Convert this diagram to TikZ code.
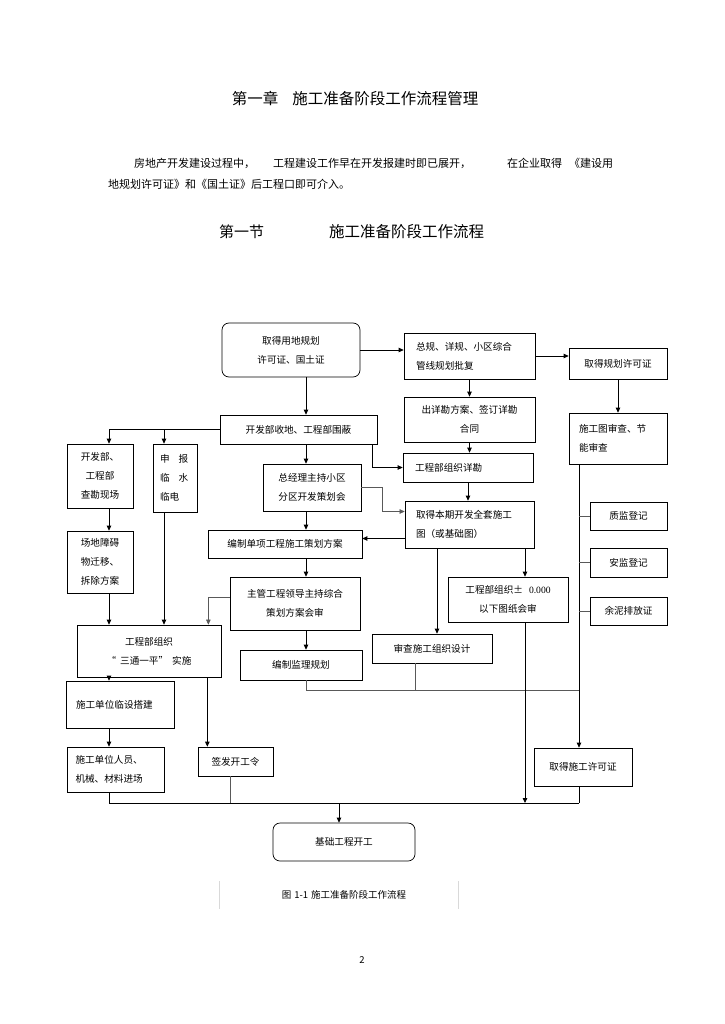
\documentclass[tikz,border=0pt]{standalone}
\usepackage{fontspec}
\setmainfont{Noto Sans CJK SC}
\newfontfamily\tms{Liberation Serif}
\usepackage{tikz}
\usetikzlibrary{arrows.meta, positioning, calc}

\begin{document}
\begin{tikzpicture}[
  x=1pt, y=-1pt,
  box/.style={draw, line width=0.7pt, inner sep=2pt, align=center, font=\fontsize{9.6}{19}\selectfont},
  lbox/.style={box, align=left},
  rbox/.style={box, rounded corners=7pt},
  arr/.style={-{Triangle[length=5pt,width=4.5pt]}, line width=0.8pt},
  link/.style={line width=0.6pt, black!65},
  txt/.style={anchor=west, inner sep=0pt}
]
  \useasboundingbox (0,0) rectangle (724,1024);

  \node[font=\fontsize{15.5}{18}\selectfont] (title) at (355,99) {第一章\hspace{14pt}施工准备阶段工作流程管理};
  \node[txt, font=\fontsize{11}{13}\selectfont] (p1) at (134,163) {房地产开发建设过程中，};
  \node[txt, font=\fontsize{11}{13}\selectfont] (p2) at (273,163) {工程建设工作早在开发报建时即已展开，};
  \node[txt, font=\fontsize{11}{13}\selectfont] (p3) at (507,163) {在企业取得};
  \node[txt, font=\fontsize{11}{13}\selectfont] (p4) at (569,163) {《建设用};
  \node[txt, font=\fontsize{11}{13}\selectfont] (p5) at (108,184) {地规划许可证》和《国土证》后工程口即可介入。};
  \node[txt, font=\fontsize{15}{18}\selectfont] (sec) at (219,232) {第一节};
  \node[txt, font=\fontsize{15.5}{18}\selectfont] (sectitle) at (329,232) {施工准备阶段工作流程};

  \node[rbox, minimum width=138, minimum height=54] (yongdi) at (291,350) {取得用地规划\\许可证、国土证};
  \node[lbox, minimum width=131, minimum height=46, text width=107] (guihua) at (469.5,356) {总规、详规、小区综合\\管线规划批复};
  \node[box, minimum width=98, minimum height=31] (xuke) at (618,363.5) {取得规划许可证};
  \node[box, minimum width=131, minimum height=45] (xiangkan) at (469.5,419.5) {出详勘方案、签订详勘\\合同};
  \node[lbox, minimum width=98, minimum height=51, text width=78] (shentu) at (618,438.5) {施工图审查、节\\能审查};
  \node[box, minimum width=157, minimum height=29] (shoudi) at (298.5,429.5) {开发部收地、工程部围蔽};
  \node[box, minimum width=66, minimum height=64] (chakan) at (100,476) {开发部、\\工程部\\查勘现场};
  \node[lbox, minimum width=44, minimum height=68, text width=30] (linshui) at (175,478) {申\hspace{9pt}报\\临\hspace{9pt}水\\临电};
  \node[box, minimum width=98, minimum height=47] (cehua) at (312,487.5) {总经理主持小区\\分区开发策划会};
  \node[lbox, minimum width=130, minimum height=29, text width=106] (zuzhi) at (468,467.5) {工程部组织详勘};
  \node[lbox, minimum width=129, minimum height=47, text width=107] (quantu) at (469.5,524.5) {取得本期开发全套施工\\图（或基础图）};
  \node[box, minimum width=154, minimum height=28] (fangan) at (285,544) {编制单项工程施工策划方案};
  \node[box, minimum width=66, minimum height=62] (qianyi) at (100,562) {场地障碍\\物迁移、\\拆除方案};
  \node[box, minimum width=77, minimum height=28] (zhijian) at (628.5,516) {质监登记};
  \node[box, minimum width=77, minimum height=29] (anjian) at (628.5,562.5) {安监登记};
  \node[box, minimum width=77, minimum height=28] (yuni) at (628.5,611) {余泥排放证};
  \node[box, minimum width=130, minimum height=53] (huishen) at (295,603.5) {主管工程领导主持综合\\策划方案会审};
  \node[box, minimum width=120, minimum height=45] (tuzhi) at (508,599.5) {工程部组织±\hspace{6pt}{\tms 0.000}\\以下图纸会审};
  \node[box, minimum width=120, minimum height=29] (shencha) at (432,648.5) {审查施工组织设计};
  \node[box, minimum width=144, minimum height=52] (santong) at (149,651) {工程部组织\\“\hspace{4pt}三通一平”\hspace{4pt}实施};
  \node[box, minimum width=122, minimum height=30] (jianli) at (301,665) {编制监理规划};
  \node[lbox, minimum width=108, minimum height=47, text width=88] (linshe) at (120,704.5) {施工单位临设搭建};
  \node[lbox, minimum width=97, minimum height=45, text width=80] (jinchang) at (115.5,769.5) {施工单位人员、\\机械、材料进场};
  \node[box, minimum width=75, minimum height=29] (kaigong) at (235.5,761.5) {签发开工令};
  \node[box, minimum width=98, minimum height=38] (shigong) at (583,767) {取得施工许可证};
  \node[rbox, minimum width=142, minimum height=38] (jichu) at (344,842) {基础工程开工};

  \coordinate (sp) at (306,0);
  \coordinate (lx) at (109,0);
  \coordinate (hx) at (164,0);
  \coordinate (rx) at (579,0);
  \coordinate (ks) at (437,0);
  \coordinate (kr) at (525,0);
  \coordinate (jn) at (579,690);
  \coordinate (jb) at (579,803);

  \draw[arr] (yongdi.east) -- (yongdi.east -| guihua.west);
  \draw[arr] (guihua.east) -- (guihua.east -| xuke.west);
  \draw[arr] (guihua.south) -- (xiangkan.north);
  \draw[arr] (xuke.south) -- (shentu.north);
  \draw[arr] (yongdi.south -| sp) -- (shoudi.north -| sp);
  \draw[arr] (shoudi.west) -| (chakan.north -| lx);
  \draw[arr] (shoudi.west -| hx) -- (linshui.north -| hx);
  \draw[arr] (xiangkan.south) -- (xiangkan.south |- zuzhi.north);
  \draw[arr] ([xshift=-5pt]shoudi.south east) |- (zuzhi.west);
  \draw[arr] (shoudi.south -| sp) -- (cehua.north -| sp);
  \draw[arr, link] (cehua.east) -- ++(21,0) |- ([yshift=13pt]quantu.west);
  \draw[arr] (zuzhi.south) -- (zuzhi.south |- quantu.north);
  \draw[arr] (cehua.south -| sp) -- (fangan.north -| sp);
  \draw[arr] ([yshift=-14pt]quantu.west) -- ([yshift=-14pt]quantu.west -| fangan.east);
  \draw[arr] (chakan.south -| lx) -- (qianyi.north -| lx);
  \draw[arr] (quantu.south -| ks) -- (shencha.north -| ks);
  \draw[arr] (quantu.south -| kr) -- (tuzhi.north -| kr);
  \draw[arr] (fangan.south -| sp) -- (huishen.north -| sp);
  \draw[arr] (qianyi.south -| lx) -- (santong.north -| lx);
  \draw[arr] (linshui.south -| hx) -- (santong.north -| hx);
  \draw[arr, link] ([yshift=6pt]huishen.west) -| ([xshift=-13pt]santong.north east);
  \draw[arr] (huishen.south -| sp) -- (jianli.north -| sp);
  \draw[arr] (santong.south -| lx) -- (linshe.north -| lx);
  \draw[arr] ([xshift=-14pt]santong.south east) -- ([xshift=-14pt]santong.south east |- kaigong.north);
  \draw[arr] (linshe.south -| lx) -- (jinchang.north -| lx);
  \draw[arr] (shentu.south -| rx) -- (shigong.north -| rx);
  \foreach \n in {zhijian, anjian, yuni}
    \draw[link] (\n.west -| rx) -- (\n.west);
  \draw[link] (jianli.south -| sp) |- (jn);
  \draw[link] ([xshift=-17pt]shencha.south) -- ([xshift=-17pt]shencha.south |- jn);
  \draw[arr] (tuzhi.south -| kr) -- (kr |- jb);
  \draw[line width=0.8pt] (jinchang.south -| lx) |- (jb);
  \draw[link] ([xshift=-5pt]kaigong.south) -- ([xshift=-5pt]kaigong.south |- jb);
  \draw[line width=0.8pt] (shigong.south -| rx) -- (jb);
  \draw[arr] ([xshift=-5pt]jichu.north |- jb) -- ([xshift=-5pt]jichu.north);

  \draw[black!15] (219,881) -- (219,909);
  \draw[black!15] (458,881) -- (458,909);
  \node[font=\fontsize{9.5}{12}\selectfont] (caption) at (344,895) {图\hspace{3pt}1-1\hspace{3pt}施工准备阶段工作流程};
  \node[font=\fontsize{9.5}{12}\selectfont] (pagenum) at (362,960) {2};
\end{tikzpicture}
\end{document}
